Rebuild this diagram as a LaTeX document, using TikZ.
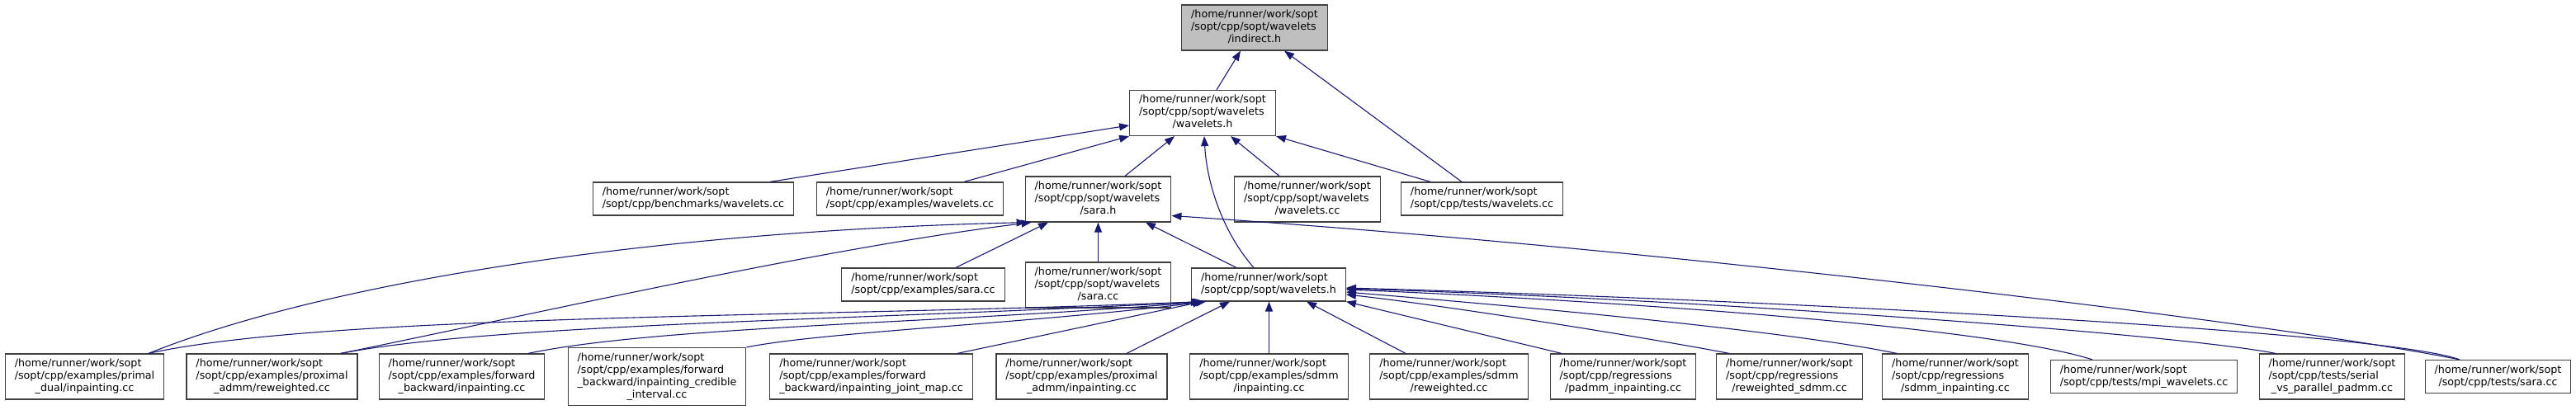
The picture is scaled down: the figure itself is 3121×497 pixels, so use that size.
\documentclass[tikz,border=0pt]{standalone}
\usepackage{fontspec}
\newfontfamily\dejavu{DejaVu Sans}
\definecolor{edgeblue}{HTML}{191970}
\definecolor{boxgray}{HTML}{404040}
\definecolor{curfill}{HTML}{BFBFBF}
\usetikzlibrary{arrows.meta}
\newcommand{\lastline}[1]{\multicolumn{1}{@{}c@{}}{#1}}
\newcommand{\fpath}[1]{\begin{tabular}{@{}l@{}}#1\end{tabular}}

\begin{document}
\begin{tikzpicture}[x=1pt,y=-1pt,
    file/.style={draw=boxgray,line width=1.2pt,fill=white,inner xsep=11.5pt,inner ysep=5pt,
      font=\dejavu\fontsize{12.7}{15}\selectfont},
    current/.style={file,fill=curfill},
    incl/.style={draw=edgeblue,line width=1.1pt,-{Triangle[length=12pt,width=9pt]}}]
    \useasboundingbox (0,0) rectangle (3121,497);
    \node[current] (indirect) at (1520,33.5) {\fpath{/home/runner/work/sopt\\/sopt/cpp/sopt/wavelets\\\lastline{/indirect.h}}};
    \node[file] (wavh) at (1457,137) {\fpath{/home/runner/work/sopt\\/sopt/cpp/sopt/wavelets\\\lastline{/wavelets.h}}};
    \node[file] (bench) at (840,241) {\fpath{/home/runner/work/sopt\\\lastline{/sopt/cpp/benchmarks/wavelets.cc}}};
    \node[file] (exwav) at (1102.5,241) {\fpath{/home/runner/work/sopt\\\lastline{/sopt/cpp/examples/wavelets.cc}}};
    \node[file] (sarah) at (1330.5,241.5) {\fpath{/home/runner/work/sopt\\/sopt/cpp/sopt/wavelets\\\lastline{/sara.h}}};
    \node[file] (wavcc) at (1584,241.5) {\fpath{/home/runner/work/sopt\\/sopt/cpp/sopt/wavelets\\\lastline{/wavelets.cc}}};
    \node[file] (testwav) at (1795.5,241) {\fpath{/home/runner/work/sopt\\\lastline{/sopt/cpp/tests/wavelets.cc}}};
    \node[file] (exsara) at (1118.5,345) {\fpath{/home/runner/work/sopt\\\lastline{/sopt/cpp/examples/sara.cc}}};
    \node[file] (saracc) at (1330.5,345.5) {\fpath{/home/runner/work/sopt\\/sopt/cpp/sopt/wavelets\\\lastline{/sara.cc}}};
    \node[file] (hub) at (1537,345) {\fpath{/home/runner/work/sopt\\\lastline{/sopt/cpp/sopt/wavelets.h}}};
    \node[file] (pdinp) at (102.5,456.5) {\fpath{/home/runner/work/sopt\\/sopt/cpp/examples/primal\\\lastline{\_dual/inpainting.cc}}};
    \node[file] (parew) at (329.5,456.5) {\fpath{/home/runner/work/sopt\\/sopt/cpp/examples/proximal\\\lastline{\_admm/reweighted.cc}}};
    \node[file] (fbinp) at (559.5,456.5) {\fpath{/home/runner/work/sopt\\/sopt/cpp/examples/forward\\\lastline{\_backward/inpainting.cc}}};
    \node[file] (fbci) at (796,456.5) {\fpath{/home/runner/work/sopt\\/sopt/cpp/examples/forward\\\_backward/inpainting\_credible\\\lastline{\_interval.cc}}};
    \node[file] (fbjm) at (1055.5,456.5) {\fpath{/home/runner/work/sopt\\/sopt/cpp/examples/forward\\\lastline{\_backward/inpainting\_joint\_map.cc}}};
    \node[file] (painp) at (1310.5,456.5) {\fpath{/home/runner/work/sopt\\/sopt/cpp/examples/proximal\\\lastline{\_admm/inpainting.cc}}};
    \node[file] (sdinp) at (1537.5,456.5) {\fpath{/home/runner/work/sopt\\/sopt/cpp/examples/sdmm\\\lastline{/inpainting.cc}}};
    \node[file] (sdrew) at (1755.5,456.5) {\fpath{/home/runner/work/sopt\\/sopt/cpp/examples/sdmm\\\lastline{/reweighted.cc}}};
    \node[file] (padmm) at (1966.5,456.5) {\fpath{/home/runner/work/sopt\\/sopt/cpp/regressions\\\lastline{/padmm\_inpainting.cc}}};
    \node[file] (rewsdmm) at (2168,456.5) {\fpath{/home/runner/work/sopt\\/sopt/cpp/regressions\\\lastline{/reweighted\_sdmm.cc}}};
    \node[file] (sdmminp) at (2369,456.5) {\fpath{/home/runner/work/sopt\\/sopt/cpp/regressions\\\lastline{/sdmm\_inpainting.cc}}};
    \node[file] (mpi) at (2597.5,456.5) {\fpath{/home/runner/work/sopt\\\lastline{/sopt/cpp/tests/mpi\_wavelets.cc}}};
    \node[file] (serial) at (2825.5,456.5) {\fpath{/home/runner/work/sopt\\/sopt/cpp/tests/serial\\\lastline{\_vs\_parallel\_padmm.cc}}};
    \node[file] (tsara) at (3026.5,456.5) {\fpath{/home/runner/work/sopt\\\lastline{/sopt/cpp/tests/sara.cc}}};
    % includes of indirect.h and wavelets.h
    \draw[incl] ([xshift=17pt]wavh.north) -- ([xshift=-17pt]indirect.south);
    \draw[incl] ([xshift=-24.5pt]testwav.north) -- ([xshift=36pt]indirect.south);
    \draw[incl] ([xshift=93pt]bench.north) -- ([yshift=-15pt]wavh.west);
    \draw[incl] ([xshift=65.5pt]exwav.north) -- (wavh.south west);
    \draw[incl] ([xshift=32.5pt]sarah.north) -- ([xshift=-34pt]wavh.south);
    \draw[incl] ([xshift=-18pt]hub.north) .. controls (1480,280) and (1462,220) .. ([xshift=2pt]wavh.south);
    \draw[incl] ([xshift=-34pt]wavcc.north) -- ([xshift=34pt]wavh.south);
    \draw[incl] ([xshift=-62.5pt]testwav.north) -- (wavh.south east);
    % includes of sara.h
    \draw[incl] ([xshift=39.5pt]exsara.north) -- ([xshift=-60.5pt]sarah.south);
    \draw[incl] (saracc.north) -- (sarah.south);
    \draw[incl] ([xshift=-39pt]hub.north) -- ([xshift=57.5pt]sarah.south);
    \draw[incl] ([xshift=77.5pt]pdinp.north) .. controls (400,340) and (800,280) .. ([xshift=2pt]sarah.south west);
    \draw[incl] ([xshift=83.5pt]parew.north) .. controls (650,380) and (1000,300) .. ([xshift=8pt]sarah.south west);
    \draw[incl] ([xshift=-46.5pt]tsara.north) .. controls (2750,390) and (2000,300) .. ([yshift=-20pt]sarah.east);
    % includes of sopt/wavelets.h
    \draw[incl] ([xshift=77.5pt]pdinp.north) .. controls (400,380) and (1000,385) .. ([xshift=-82pt]hub.south);
    \draw[incl] ([xshift=83.5pt]parew.north) .. controls (600,392) and (1050,388) .. ([xshift=-80pt]hub.south);
    \draw[incl] ([xshift=80.5pt]fbinp.north) .. controls (800,395) and (1150,392) .. ([xshift=-78pt]hub.south);
    \draw[incl] (fbci.north east) .. controls (1000,402) and (1250,392) .. ([xshift=-76pt]hub.south);
    \draw[incl] ([xshift=104.5pt]fbjm.north) -- ([xshift=-80pt]hub.south);
    \draw[incl] ([xshift=54.5pt]painp.north) -- ([xshift=-47pt]hub.south);
    \draw[incl] (sdinp.north) -- (sdinp.north |- hub.south);
    \draw[incl] ([xshift=-52.5pt]sdrew.north) -- ([xshift=46pt]hub.south);
    \draw[incl] ([xshift=-74.5pt]padmm.north) -- (hub.south east);
    \draw[incl] ([xshift=-73pt]rewsdmm.north) .. controls (2000,410) and (1750,370) .. ([yshift=-12pt]hub.east);
    \draw[incl] ([xshift=-71pt]sdmminp.north) .. controls (2150,398) and (1800,368) .. ([yshift=-9pt]hub.east);
    \draw[incl] ([xshift=-62.5pt]mpi.north) .. controls (2400,393) and (1900,362) .. ([yshift=-6pt]hub.east);
    \draw[incl] ([xshift=-68.5pt]serial.north) .. controls (2620,402) and (2000,360) .. ([yshift=-5pt]hub.east);
    \draw[incl] ([xshift=-46.5pt]tsara.north) .. controls (2880,400) and (2100,362) .. ([yshift=-4pt]hub.east);
\end{tikzpicture}
\end{document}
